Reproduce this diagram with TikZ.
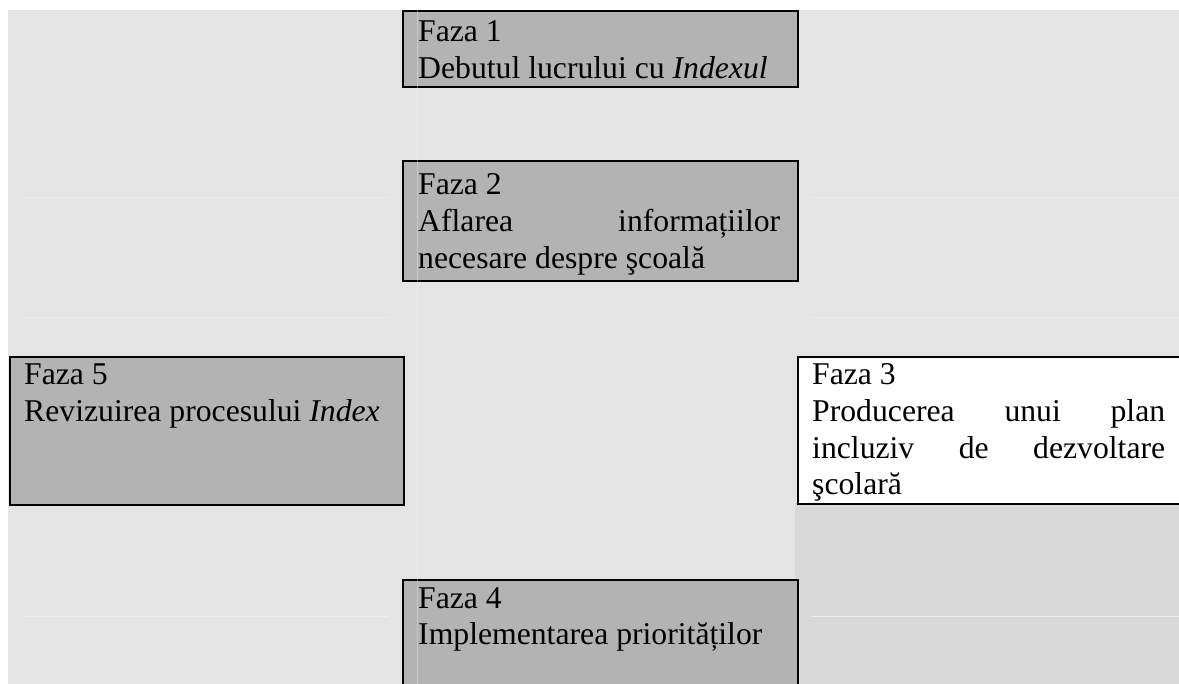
\documentclass[tikz,border=0pt]{standalone}
\usepackage{fontspec}
\setmainfont{Liberation Serif}
\definecolor{bgA}{HTML}{E4E4E4}
\definecolor{bgB}{HTML}{D9D9D9}
\definecolor{boxgray}{HTML}{B3B3B3}
\definecolor{faint}{HTML}{EDEDED}
\begin{document}
\begin{tikzpicture}[x=1pt,y=-1pt,
  phase/.style={draw=black, line width=1.9pt, fill=boxgray, rectangle, inner sep=0pt, anchor=north west},
  phasetext/.style={anchor=base west, inner sep=0pt, font=\fontsize{31.7pt}{36.6pt}\selectfont},
  faintline/.style={draw=faint, line width=1pt}]
\useasboundingbox (0,0) rectangle (1179,684);
\clip (0,0) rectangle (1179,684);
% background
\fill[white] (0,0) rectangle (1179,684);
\fill[bgA] (8,10) rectangle (1179,684);
\fill[bgB] (795,503) rectangle (1179,684);
% faint table rules
\foreach \yy in {198,318,616}{
  \draw[faintline] (24,\yy) -- (389,\yy);
  \draw[faintline] (811,\yy) -- (1179,\yy);
}
% boxes
\node[phase, minimum width=395pt, minimum height=76pt] (f1) at (402,10) {};
\node[phase, minimum width=395pt, minimum height=120pt] (f2) at (402,160) {};
\node[phase, minimum width=394pt, minimum height=148pt] (f5) at (9,356) {};
\node[phase, fill=white, minimum width=390pt, minimum height=147pt] (f3) at (797,356) {};
\node[phase, minimum width=395pt, minimum height=130pt] (f4) at (402,579) {};
% faint vertical rule
\draw[white, opacity=0.3, line width=1pt] (417.5,10) -- (417.5,684);
% texts
\node[phasetext] (t1) at (418,42) {\parbox[t]{380pt}{Faza 1\\Debutul lucrului cu \textit{Indexul}}};
\node[phasetext] (t2) at (418,195) {\parbox[t]{380pt}{Faza 2\\\makebox[362pt][s]{Aflarea informațiilor}\\necesare despre şcoală}};
\node[phasetext] (t5) at (24,385) {\parbox[t]{380pt}{Faza 5\\Revizuirea procesului \textit{Index}}};
\node[phasetext] (t3) at (812,385) {\parbox[t]{380pt}{Faza 3\\\makebox[353pt][s]{Producerea unui plan}\\\makebox[353pt][s]{incluziv de dezvoltare}\\şcolară}};
\node[phasetext] (t4) at (418,608) {\parbox[t]{380pt}{Faza 4\\Implementarea priorităților}};
\end{tikzpicture}
\end{document}
